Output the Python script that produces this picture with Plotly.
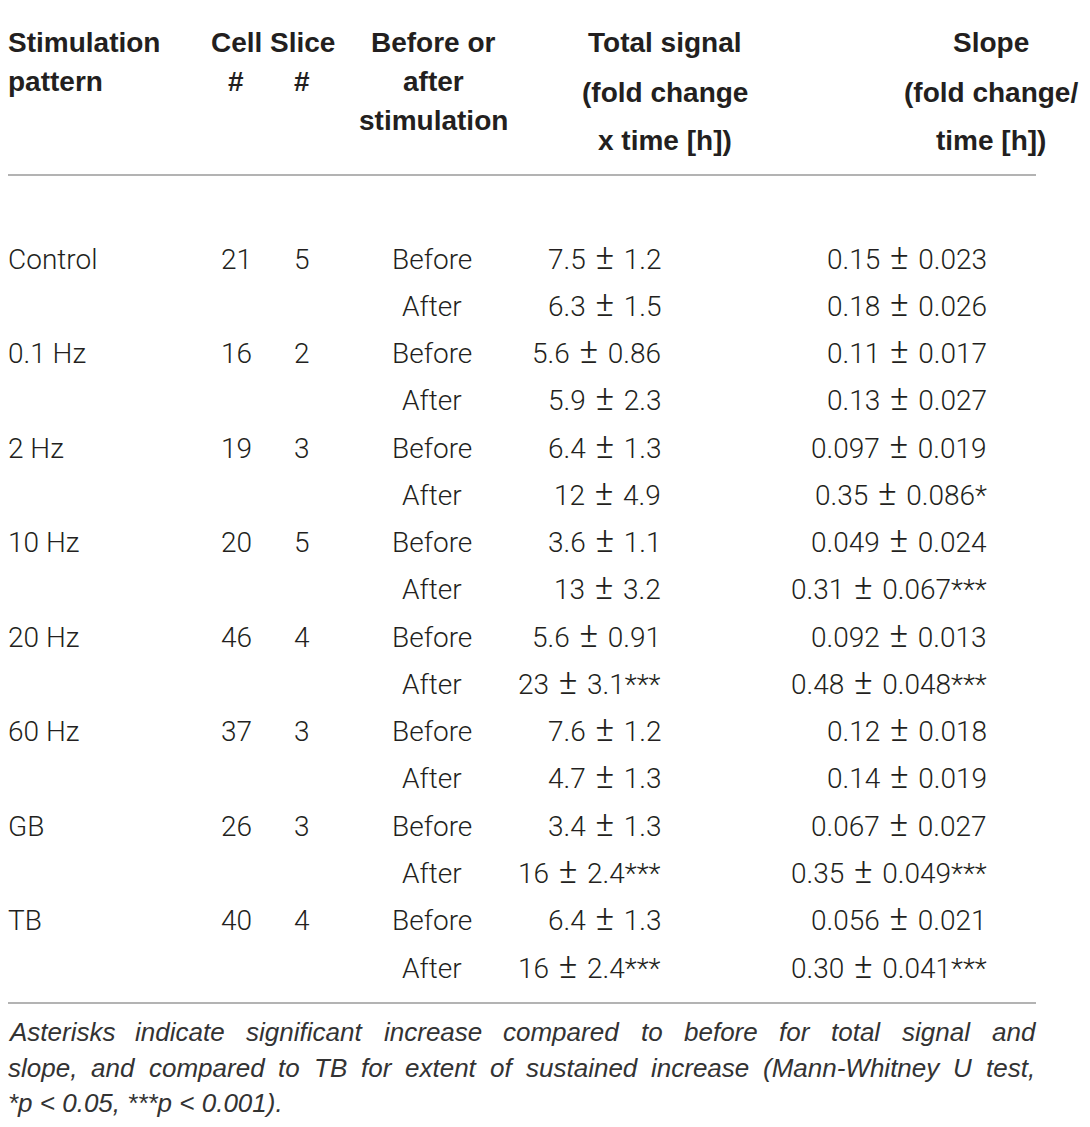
import plotly.graph_objects as go

# table content
patterns = ["Control", "0.1 Hz", "2 Hz", "10 Hz", "20 Hz", "60 Hz", "GB", "TB"]
cell_n = ["21", "16", "19", "20", "46", "37", "26", "40"]
slice_n = ["5", "2", "3", "5", "4", "3", "3", "4"]
phases = ["Before", "After"]

total_signal = ["7.5 ± 1.2", "6.3 ± 1.5", "5.6 ± 0.86", "5.9 ± 2.3",
                "6.4 ± 1.3", "12 ± 4.9", "3.6 ± 1.1", "13 ± 3.2",
                "5.6 ± 0.91", "23 ± 3.1", "7.6 ± 1.2", "4.7 ± 1.3",
                "3.4 ± 1.3", "16 ± 2.4", "6.4 ± 1.3", "16 ± 2.4"]
total_stars = ["", "", "", "", "", "", "", "",
               "", "***", "", "", "", "***", "", "***"]

slope = ["0.15 ± 0.023", "0.18 ± 0.026", "0.11 ± 0.017", "0.13 ± 0.027",
         "0.097 ± 0.019", "0.35 ± 0.086", "0.049 ± 0.024", "0.31 ± 0.067",
         "0.092 ± 0.013", "0.48 ± 0.048", "0.12 ± 0.018", "0.14 ± 0.019",
         "0.067 ± 0.027", "0.35 ± 0.049", "0.056 ± 0.021", "0.30 ± 0.041"]
slope_stars = ["", "", "", "", "", "*", "", "***",
               "", "***", "", "", "", "***", "", "***"]

head_pattern = ["Stimulation", "pattern"]
head_cell = ["Cell", "#"]
head_slice = ["Slice", "#"]
head_phase = ["Before or", "after", "stimulation"]
head_total = ["Total signal", "(fold change", "x time [h])"]
head_slope = ["Slope", "(fold change/", "time [h])"]

footnote = [
    "Asterisks indicate significant increase compared to before for total signal and",
    "slope, and compared to TB for extent of sustained increase (Mann-Whitney U test,",
    "*p < 0.05, ***p < 0.001).",
]

# layout, in page pixels (the page body has an 8 px margin)
W, H = 1090, 1127
PAD = 8
HEAD_FONT = "Liberation Sans, Arial, Helvetica, sans-serif"
BODY_FONT = "Roboto, Liberation Sans, Arial, sans-serif"
INK = "#231f20"
RULE = "#9a9a9a"
ROW_Y0, ROW_STEP = 259, 47.27
HEAD_TIGHT = [42, 81, 120]
HEAD_WIDE = [42, 92, 140]
FOOT_Y = [1032, 1068, 1103]
FOOT_SIZE = 26

# Arial advance widths (1/1000 em) for justifying the footnote
ADV = {" ": 278, "A": 667, "B": 667, "M": 833, "T": 611, "U": 722, "W": 944,
       "a": 556, "b": 556, "c": 500, "d": 556, "e": 556, "f": 278, "g": 556,
       "h": 556, "i": 222, "k": 500, "l": 222, "m": 833, "n": 556, "o": 556,
       "p": 556, "r": 333, "s": 500, "t": 278, "u": 556, "v": 500, "w": 722,
       "x": 500, "y": 500, ",": 278, ".": 278, "(": 333, ")": 333, "-": 333}


def text_width(s, size):
    return sum(ADV.get(ch, 556) for ch in s) * size / 1000


def pm(s):
    # the print layout uses a larger plus-minus sign
    return s.replace(" ± ", " \u200a<span style=\"font-size:35px;font-weight:300\">±</span>\u200a ")


fig = go.Figure()


def put(x, y, text, anchor="left", size=28, family=BODY_FONT, weight=300,
        color=INK, yshift=0):
    fig.add_annotation(x=x, y=y, xref="x", yref="y", text=text, showarrow=False,
                       xanchor=anchor, yanchor="middle", borderpad=0, borderwidth=0,
                       yshift=yshift,
                       font=dict(family=family, size=size, color=color, weight=weight))


def head(x, ys, lines, anchor):
    for y, t in zip(ys, lines):
        put(x, y, t, anchor, family=HEAD_FONT, weight=700)


# header
head(8, HEAD_TIGHT, head_pattern, "left")
head(236, HEAD_TIGHT, head_cell, "center")
head(302, HEAD_TIGHT, head_slice, "center")
head(433, HEAD_TIGHT, head_phase, "center")
head(665, HEAD_WIDE, head_total, "center")
head(991, HEAD_WIDE, head_slope, "center")

# body
for r in range(len(total_signal)):
    y = ROW_Y0 + r * ROW_STEP
    if r % 2 == 0:
        g = r // 2
        put(8, y, patterns[g], "left")
        put(236, y, cell_n[g], "center")
        put(302, y, slice_n[g], "center")
    put(432, y, phases[r % 2], "center")
    # the larger ± makes the line box taller, nudge back onto the row baseline
    put(661, y, pm(total_signal[r]) + total_stars[r], "right", yshift=2)
    put(987, y, pm(slope[r]) + slope_stars[r], "right", yshift=2)

# footnote, first two lines justified between the rule ends
x_left, x_right = 8, 1035
for i, line in enumerate(footnote):
    if i < len(footnote) - 1:
        words = line.split(" ")
        widths = [text_width(w, FOOT_SIZE) for w in words]
        gap = (x_right - x_left - sum(widths)) / (len(words) - 1)
        x = x_left
        for w, wd in zip(words, widths):
            put(x, FOOT_Y[i], "<i>" + w + "</i>", "left", size=FOOT_SIZE,
                family=HEAD_FONT, weight=400, color="#333333")
            x += wd + gap
    else:
        put(x_left, FOOT_Y[i], "<i>" + line + "</i>", "left", size=FOOT_SIZE,
            family=HEAD_FONT, weight=400, color="#333333")

# horizontal rules
for y in [5, 175, 1003]:
    fig.add_shape(type="line", xref="x", yref="y", x0=0, x1=1036, y0=y, y1=y,
                  line=dict(color=RULE, width=1.6))

fig.update_xaxes(range=[PAD, W - PAD], visible=False, fixedrange=True)
fig.update_yaxes(range=[H - PAD, PAD], visible=False, fixedrange=True)
fig.update_layout(width=W - 2 * PAD, height=H - 2 * PAD,
                  margin=dict(l=0, r=0, t=0, b=0),
                  paper_bgcolor="white", plot_bgcolor="white", showlegend=False)

fig.write_html("out.html")
